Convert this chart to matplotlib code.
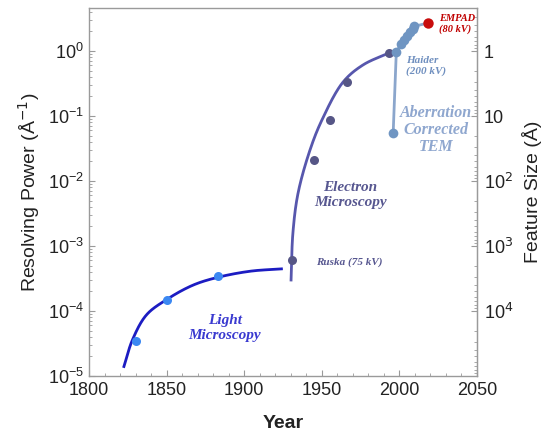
import numpy as np
import matplotlib
matplotlib.use("Agg")
import matplotlib.pyplot as plt
from matplotlib.ticker import FixedLocator, FixedFormatter, LogLocator, MultipleLocator, NullFormatter

plt.rcParams['font.family'] = ['Liberation Sans', 'DejaVu Sans']

# Light microscopy milestones
light_years = [1830, 1850, 1883]
light_res = [3.4e-5, 1.5e-4, 3.4e-4]
# Light microscopy trend line vertices
light_curve_years = [1822.5, 1828, 1837, 1850, 1867, 1883, 1904, 1924]
light_curve_res = [1.4e-5, 3.6e-5, 8.7e-5, 1.5e-4, 2.5e-4, 3.3e-4, 4.1e-4, 4.45e-4]

# Electron microscopy milestones
em_years = [1931, 1945, 1955, 1966, 1993]
em_res = [6.0e-4, 0.021, 0.087, 0.33, 0.93]
# Electron microscopy trend line vertices
em_curve_years = [1930.2, 1931.4, 1934.7, 1942.4, 1950.1, 1963.7, 1976.5, 1994]
em_curve_res = [3.0e-4, 1.6e-3, 6.5e-3, 0.030, 0.087, 0.333, 0.61, 0.95]

# Aberration-corrected TEM
ac_years = [1996, 1998, 2001, 2003, 2005, 2007, 2008.5, 2009.5]
ac_res = [0.055, 0.95, 1.3, 1.5, 1.7, 1.95, 2.2, 2.4]

# EMPAD
empad_year = [2018.5]
empad_res = [2.7]

feature_ticks = [1, 10, 100, 1000, 10000]
feature_labels = ['1', '10', '10$^2$', '10$^3$', '10$^4$']


def smooth(xs, ys, n=40, xscale=1.55, yscale=65.0):
    """Centripetal Catmull-Rom spline through vertices, computed in a
    space where one year and one decade have their on-screen proportions."""
    P = np.column_stack([np.asarray(xs, float) * xscale,
                         np.log10(np.asarray(ys, float)) * yscale])
    P = np.vstack([2 * P[0] - P[1], P, 2 * P[-1] - P[-2]])
    out = []
    for i in range(1, len(P) - 2):
        p0, p1, p2, p3 = P[i - 1], P[i], P[i + 1], P[i + 2]
        t0 = 0.0
        t1 = t0 + np.linalg.norm(p1 - p0) ** 0.5
        t2 = t1 + np.linalg.norm(p2 - p1) ** 0.5
        t3 = t2 + np.linalg.norm(p3 - p2) ** 0.5
        t = np.linspace(t1, t2, n, endpoint=False)[:, None]
        a1 = (t1 - t) / (t1 - t0) * p0 + (t - t0) / (t1 - t0) * p1
        a2 = (t2 - t) / (t2 - t1) * p1 + (t - t1) / (t2 - t1) * p2
        a3 = (t3 - t) / (t3 - t2) * p2 + (t - t2) / (t3 - t2) * p3
        b1 = (t2 - t) / (t2 - t0) * a1 + (t - t0) / (t2 - t0) * a2
        b2 = (t3 - t) / (t3 - t1) * a2 + (t - t1) / (t3 - t1) * a3
        out.append((t2 - t) / (t2 - t1) * b1 + (t - t1) / (t2 - t1) * b2)
    out.append(P[-2][None, :])
    C = np.vstack(out)
    return C[:, 0] / xscale, 10 ** (C[:, 1] / yscale)


fig = plt.figure(figsize=(5.44, 4.36), dpi=100)
ax = fig.add_axes([0.1636, 0.1376, 0.7132, 0.8441])
ax.set_yscale('log')
ax.set_xlim(1800, 2050)
ax.set_ylim(1e-5, 4.6)

# Light microscopy
cx, cy = smooth(light_curve_years, light_curve_res)
ax.plot(cx, cy, color='#1c1cc2', lw=2.0, zorder=2)
ax.plot(light_years, light_res, 'o', color='#3b88f2', ms=6.5, mec='none', zorder=3)

# Electron microscopy
cx, cy = smooth(em_curve_years, em_curve_res)
ax.plot(cx, cy, color='#5757ad', lw=2.0, zorder=2)
ax.plot(em_years, em_res, 'o', color='#565686', ms=6.5, mec='none', zorder=3)

# Aberration-corrected TEM and EMPAD
ax.plot(ac_years + empad_year, ac_res + empad_res, color='#8ba6cc', lw=2.0, zorder=2)
ax.plot(ac_years, ac_res, 'o', color='#6f95c2', ms=7, mec='none', zorder=3)
ax.plot(empad_year, empad_res, 'o', color='#c80d0d', ms=7.5, mec='none', zorder=4)

serif = dict(family=['Liberation Serif', 'DejaVu Serif'], style='italic', weight='bold')
ax.text(1887.6, 5.5e-5, 'Light\nMicroscopy', color='#3a3ad0', fontsize=11,
        ha='center', va='center', linespacing=1.15, **serif)
ax.text(1968.2, 6.1e-3, 'Electron\nMicroscopy', color='#575790', fontsize=11,
        ha='center', va='center', linespacing=1.15, **serif)
ax.text(1946.3, 5.7e-4, 'Ruska (75 kV)', color='#575790', fontsize=8,
        ha='left', va='center', **serif)
ax.text(2004, 0.59, 'Haider\n(200 kV)', color='#6f8fbf', fontsize=8,
        ha='left', va='center', linespacing=1.3, **serif)
ax.text(2023.6, 0.061, 'Aberration\nCorrected\nTEM', color='#8fa7cf', fontsize=11.5,
        ha='center', va='center', linespacing=1.05, **serif)
ax.text(2025.5, 2.6, 'EMPAD\n(80 kV)', color='#c00000', fontsize=7.5,
        ha='left', va='center', linespacing=1.25, **serif)

for s in ax.spines.values():
    s.set_color('#9a9a9a')
    s.set_linewidth(1.0)

ax.xaxis.set_major_locator(MultipleLocator(50))
ax.xaxis.set_minor_locator(MultipleLocator(10))
ax.yaxis.set_major_locator(LogLocator(base=10, numticks=10))
ax.yaxis.set_minor_locator(LogLocator(base=10, subs=np.arange(2, 10), numticks=10))
ax.yaxis.set_minor_formatter(NullFormatter())
ax.tick_params(which='both', direction='in', color='#9a9a9a', labelsize=13,
               labelcolor='#222222')
ax.tick_params(which='major', length=4)
ax.tick_params(which='minor', length=2)
ax.tick_params(axis='x', pad=4)

sec = ax.secondary_yaxis('right', functions=(lambda v: 1.0 / v, lambda v: 1.0 / v))
sec.yaxis.set_major_locator(FixedLocator(feature_ticks))
sec.yaxis.set_major_formatter(FixedFormatter(feature_labels))
sec.yaxis.set_minor_locator(LogLocator(base=10, subs=np.arange(2, 10), numticks=12))
sec.yaxis.set_minor_formatter(NullFormatter())
sec.tick_params(which='both', direction='in', color='#9a9a9a', labelsize=13,
                labelcolor='#222222', pad=5)
sec.tick_params(which='major', length=4)
sec.tick_params(which='minor', length=2)
sec.spines['right'].set_color('#9a9a9a')
sec.set_ylabel('Feature Size (Å)', fontsize=14, color='#222222', labelpad=6)

ax.set_ylabel('Resolving Power (Å$^{-1}$)', fontsize=14, color='#222222', labelpad=4)
ax.set_xlabel('Year', fontsize=14, fontweight='bold', color='#222222', labelpad=12)

fig.savefig('out.png', dpi=100)
